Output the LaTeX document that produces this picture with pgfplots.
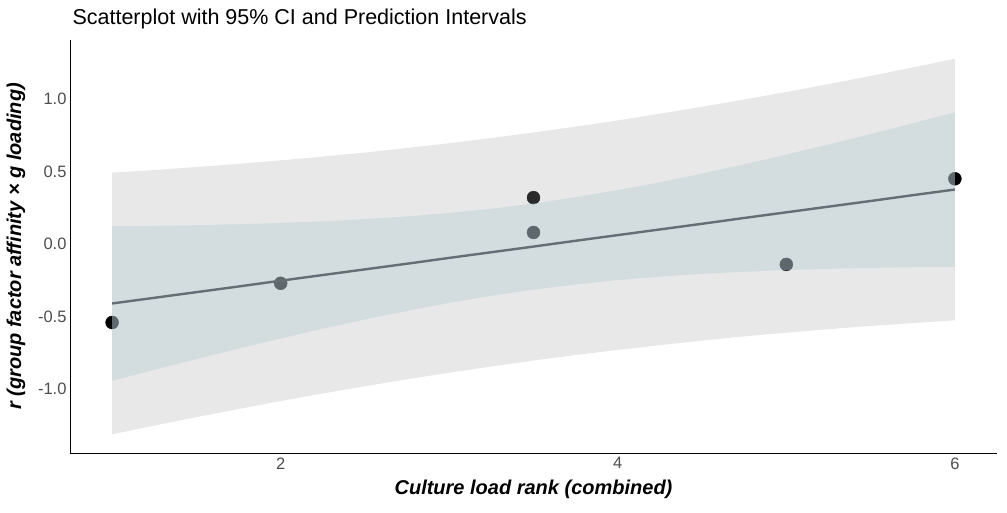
\documentclass[border=0pt]{standalone}
\usepackage{pgfplots}
\pgfplotsset{compat=1.18}
\usepackage{pgfplotstable}
\usepgfplotslibrary{fillbetween}
\usepackage{fontspec}
\setmainfont{Liberation Sans}

\definecolor{tickgray}{RGB}{77,77,77}
\definecolor{pigray}{RGB}{165,165,165}
\definecolor{ciblue}{RGB}{178,204,214}
\definecolor{fitline}{RGB}{100,110,116}

% x, fitted value, 95% CI and prediction interval bounds
\pgfplotstableread{
x     fit     cilo    cihi   pilo    pihi
1.00  -0.409  -0.941  0.123  -1.310  0.492
1.25  -0.370  -0.866  0.126  -1.250  0.510
1.50  -0.331  -0.792  0.130  -1.192  0.531
1.75  -0.292  -0.720  0.137  -1.136  0.553
2.00  -0.252  -0.650  0.146  -1.081  0.577
2.25  -0.213  -0.583  0.157  -1.029  0.603
2.50  -0.174  -0.519  0.172  -0.979  0.631
2.75  -0.135  -0.460  0.191  -0.931  0.662
3.00  -0.095  -0.405  0.215  -0.886  0.695
3.25  -0.056  -0.356  0.244  -0.843  0.731
3.50  -0.017  -0.314  0.280  -0.802  0.769
3.75   0.023  -0.278  0.323  -0.764  0.809
4.00   0.062  -0.248  0.372  -0.729  0.852
4.25   0.101  -0.224  0.426  -0.696  0.898
4.50   0.140  -0.205  0.486  -0.665  0.946
4.75   0.180  -0.190  0.550  -0.636  0.996
5.00   0.219  -0.179  0.617  -0.610  1.048
5.25   0.258  -0.170  0.686  -0.586  1.102
5.50   0.297  -0.164  0.758  -0.564  1.158
5.75   0.337  -0.159  0.832  -0.544  1.217
6.00   0.376  -0.156  0.908  -0.525  1.277
}\bands

\begin{document}
\begin{tikzpicture}
\begin{axis}[
    at={(0pt,0pt)}, anchor=south west,
    scale only axis,
    width=927pt, height=413pt,
    xmin=0.75, xmax=6.25,
    ymin=-1.439, ymax=1.406,
    axis x line*=bottom, axis y line*=left,
    axis line style={black, line width=0.9pt},
    xtick={2,4,6},
    ytick={-1,-0.5,0,0.5,1},
    major tick length=0pt,
    tick label style={font=\fontsize{16.5}{19}\selectfont, text=tickgray},
    /pgf/number format/assume math mode=true,
    yticklabel style={/pgf/number format/fixed, /pgf/number format/fixed zerofill, /pgf/number format/precision=1},
    xticklabel style={yshift=-1pt},
    xlabel={\bfseries\itshape Culture load rank (combined)},
    ylabel={\bfseries\itshape r (group factor affinity × g loading)},
    label style={font=\fontsize{20}{23}\selectfont},
    xlabel style={yshift=-4pt},
    ylabel style={yshift=6pt},
    title={Scatterplot with 95\% CI and Prediction Intervals},
    title style={at={(0,1)}, anchor=base west, yshift=9pt, xshift=-1pt, font=\fontsize{21.5}{25}\selectfont},
    set layers,
]
% observed points (drawn under the translucent bands)
\addplot[only marks, mark=*, mark size=6.5pt, black,
    on layer=axis background, mark layer=axis background] coordinates {
    (1, -0.54) (2, -0.27) (3.5, 0.32) (3.5, 0.08) (5, -0.14) (6, 0.45)
};

% prediction interval
\addplot[name path=pilo, draw=none] table[x=x, y=pilo] {\bands};
\addplot[name path=pihi, draw=none] table[x=x, y=pihi] {\bands};
\addplot[pigray, fill opacity=0.26, draw=none] fill between[of=pilo and pihi];

% confidence interval
\addplot[name path=cilo, draw=none] table[x=x, y=cilo] {\bands};
\addplot[name path=cihi, draw=none] table[x=x, y=cihi] {\bands};
\addplot[ciblue, fill opacity=0.386, draw=none] fill between[of=cilo and cihi];

% fitted line
\addplot[fitline, line width=2.4pt] table[x=x, y=fit] {\bands};
\end{axis}
\pgfresetboundingbox
\path (-70pt,-59pt) rectangle (937pt,453pt);
\end{tikzpicture}
\end{document}
